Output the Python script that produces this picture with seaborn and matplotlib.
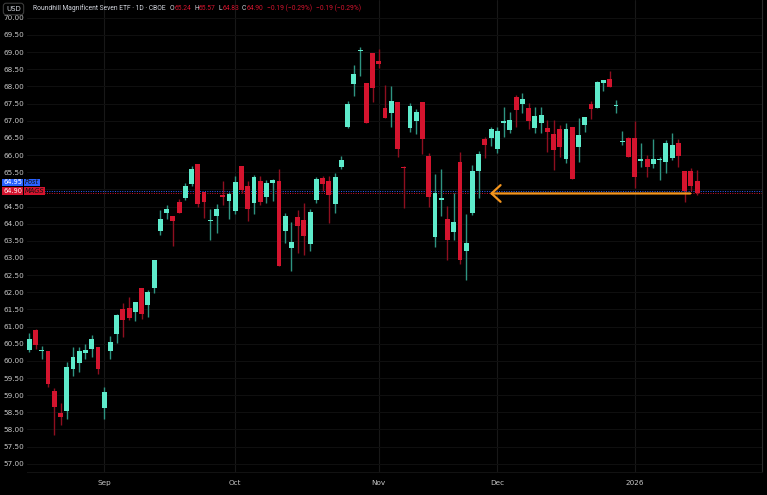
import numpy as np
import pandas as pd
import seaborn as sns
import matplotlib.pyplot as plt

# daily candles (Aug 14 2025 -> Jan 16 2026)
opens = [60.31, 60.90, 60.28, 60.28, 59.12, 58.49, 58.55, 59.76, 59.93, 60.23, 60.34, 60.39,
         58.64, 60.29, 60.77, 61.50, 61.54, 61.43, 62.11, 61.63, 62.11, 63.78, 64.32, 64.22,
         64.62, 64.76, 65.17, 65.73, 64.93, 64.08, 64.22, 64.83, 64.66,
         64.38, 65.69, 65.10, 64.61, 65.23, 64.78, 65.19, 65.25, 63.79, 63.30, 64.18, 64.11,
         63.41, 64.68, 65.34, 65.24, 64.58, 65.66, 66.83, 68.07, 69.02, 68.09, 68.97,
         68.75, 67.38, 67.24, 67.55, 65.66, 66.78, 67.00, 67.55, 65.98, 63.62, 64.70, 64.13,
         63.76, 65.80, 63.21, 64.32, 65.54, 66.48, 66.49,
         66.17, 66.94, 66.72, 67.70, 67.48, 67.38, 66.78, 66.92, 66.80, 66.61, 66.76, 65.88,
         66.83, 66.24, 66.89, 67.48, 67.37, 68.10, 68.22, 67.43, 66.38, 66.51,
         66.49, 65.83, 65.88, 65.73, 65.86, 65.79, 65.90, 66.36, 65.54, 65.54, 65.24]
highs = [60.82, 60.92, 60.44, 60.30, 59.21, 58.78, 59.96, 60.41, 60.41, 60.49, 60.74, 60.40,
         59.23, 60.72, 61.36, 61.69, 61.86, 61.72, 62.11, 62.08, 62.95, 64.40, 64.54, 64.22,
         64.72, 65.19, 65.68, 65.73, 64.93, 64.43, 64.57, 65.25, 64.93,
         65.40, 65.69, 65.25, 65.42, 65.40, 65.27, 65.29, 65.59, 64.30, 64.06, 64.40, 64.59,
         64.43, 65.37, 65.40, 65.40, 65.47, 65.97, 67.57, 68.62, 69.14, 68.09, 68.97,
         69.09, 68.05, 68.01, 67.55, 65.68, 67.53, 67.33, 67.55, 66.05, 65.45, 65.59, 64.52,
         64.88, 66.10, 64.28, 65.70, 66.13, 66.53, 66.83,
         66.82, 67.39, 67.26, 67.75, 67.80, 67.53, 67.39, 67.39, 67.02, 67.02, 66.87, 66.92,
         66.83, 67.07, 67.12, 67.58, 68.17, 68.20, 68.45, 67.60, 66.70, 66.53,
         66.99, 66.34, 66.00, 66.48, 65.93, 66.44, 66.65, 66.48, 65.54, 65.61, 65.57]
lows = [60.27, 60.34, 60.05, 59.23, 57.84, 58.13, 58.31, 59.56, 59.68, 60.04, 60.10, 59.61,
        58.31, 60.05, 60.53, 60.69, 61.19, 61.16, 61.22, 61.29, 61.97, 63.66, 64.13, 63.36,
        64.30, 64.69, 65.11, 64.48, 64.17, 63.52, 63.72, 64.54, 64.15,
        64.28, 64.90, 64.08, 64.29, 64.53, 64.59, 64.66, 62.77, 63.45, 62.62, 63.13, 63.08,
        63.21, 64.61, 64.96, 64.03, 64.32, 65.58, 66.78, 67.73, 68.29, 66.94, 67.56,
        68.53, 67.07, 66.83, 65.93, 64.45, 66.66, 66.61, 66.03, 64.48, 63.31, 64.23, 62.94,
        63.52, 62.82, 62.36, 64.25, 64.74, 65.90, 66.26,
        66.07, 66.53, 66.64, 66.83, 67.22, 66.75, 66.64, 66.63, 66.10, 65.56, 65.93, 65.76,
        65.30, 65.80, 66.66, 67.04, 67.37, 67.86, 67.97, 67.23, 66.30, 65.95,
        65.05, 65.66, 65.35, 65.61, 65.27, 65.48, 65.87, 65.64, 64.64, 64.96, 64.83]
closes = [60.64, 60.46, 60.32, 59.32, 58.66, 58.35, 59.81, 60.10, 60.29, 60.33, 60.63, 59.76,
          59.10, 60.55, 61.34, 61.19, 61.24, 61.72, 61.36, 62.01, 62.93, 64.13, 64.42, 64.08,
          64.30, 65.11, 65.58, 64.57, 64.63, 64.12, 64.43, 64.78, 64.85,
          65.20, 64.97, 64.42, 65.36, 64.63, 65.19, 65.27, 62.77, 64.23, 63.46, 63.94, 63.65,
          64.33, 65.29, 65.15, 64.83, 65.36, 65.85, 67.48, 68.37, 69.05, 66.94, 67.95,
          68.65, 67.07, 67.58, 66.17, 65.62, 67.42, 67.26, 66.48, 64.78, 64.88, 64.75, 63.52,
          64.06, 62.94, 63.44, 65.54, 66.02, 66.29, 66.76,
          66.69, 67.00, 67.01, 67.31, 67.62, 67.00, 67.14, 67.16, 66.68, 66.15, 66.23, 66.76,
          65.30, 66.58, 67.12, 67.35, 68.14, 68.18, 67.97, 67.46, 66.42, 65.95,
          65.35, 65.89, 65.64, 65.89, 65.89, 66.36, 66.28, 65.98, 64.96, 65.09, 64.90]
holidays = ["2025-09-01", "2025-11-27", "2025-12-25", "2026-01-01"]
post_price = 64.95
ticker = "MAGS"
title = "Roundhill Magnificent Seven ETF · 1D · CBOE"

UP, DOWN = "#5EEBCB", "#D4142E"
UP_WICK, DOWN_WICK = "#2E9481", "#8E0F1F"
BG = "#000000"
ORANGE = "#F5961E"
TXT = "#d1d4dc"

dates = pd.bdate_range("2025-08-14", "2026-01-16")
dates = dates[~dates.isin(pd.to_datetime(holidays))]
df = pd.DataFrame({"date": dates, "open": opens, "high": highs, "low": lows, "close": closes})
df["up"] = df["close"] >= df["open"]
x = np.arange(len(df))

sns.set_style("dark", {"axes.facecolor": BG, "figure.facecolor": BG,
                       "axes.edgecolor": "#2a2a2a", "text.color": TXT,
                       "xtick.color": "#c8c8c8", "ytick.color": "#c8c8c8"})
plt.rcParams["font.family"] = ["DejaVu Sans"]
head_font = ["Roboto", "DejaVu Sans"]

fig = plt.figure(figsize=(7.67, 4.95), dpi=100)
ax = fig.add_axes([27 / 767, 23 / 495, 735 / 767, 472 / 495])

# wicks + bodies
ax.vlines(x, df["low"], df["high"],
          colors=np.where(df["up"], UP_WICK, DOWN_WICK), lw=1, zorder=3)
body = np.maximum((df["close"] - df["open"]).abs(), 0.03)
ax.bar(x, body, bottom=df[["open", "close"]].min(axis=1), width=0.78,
       color=np.where(df["up"], UP, DOWN), linewidth=0, zorder=4)

# last / post price lines
last = df["close"].iloc[-1]
ax.axhline(post_price, color="#2962FF", lw=0.7, ls=(0, (1, 1.5)), zorder=2)
ax.axhline(last, color=DOWN, lw=0.7, ls=(0, (1, 1.5)), zorder=2)

# orange arrow pointing back to the breakout area
ax.annotate("", xy=(73.8, 64.88), xytext=(105.9, 64.88),
            arrowprops=dict(arrowstyle="->,head_length=0.65,head_width=0.6",
                            color=ORANGE, lw=1.6, shrinkA=0, shrinkB=0,
                            mutation_scale=10), zorder=5)

# axes
ax.set_xlim(-0.37, 117.4)
ax.set_ylim(56.76, 70.52)
yt = np.arange(57, 70.01, 0.5)
ax.set_yticks(yt)
# 65.00 sits under the price tags, so it is left blank
ax.set_yticklabels(["" if abs(v - 65) < 1e-6 else f"{v:.2f}" for v in yt])
firsts = df.groupby(df["date"].dt.to_period("M")).head(1).index[1:]
ax.set_xticks(firsts)
ax.set_xticklabels([df["date"][i].strftime("%Y") if df["date"][i].month == 1
                    else df["date"][i].strftime("%b") for i in firsts])
ax.tick_params(axis="y", labelsize=5.2, length=0, pad=2)
ax.tick_params(axis="x", labelsize=5.2, length=0, pad=6)
ax.yaxis.grid(True, color="#0f0f0f", lw=0.8)
ax.xaxis.grid(True, color="#181818", lw=0.8)
ax.set_axisbelow(True)
for s in ["left", "top"]:
    ax.spines[s].set_visible(False)
ax.spines["right"].set_color("#2b2b2b")
ax.spines["bottom"].set_color("#121212")

# price labels on the scale
def tag(price, val_txt, name, color):
    t = ax.annotate(val_txt, xy=(3 / 767, price), xycoords=("figure fraction", "data"),
                    ha="left", va="center", fontsize=4.8, color="white", zorder=10,
                    bbox=dict(boxstyle="square,pad=0.12", fc=color, ec="none"))
    ax.annotate(name, xy=(1, 0.5), xycoords=t, xytext=(2.2, 0), textcoords="offset points",
                ha="left", va="center", fontsize=4.8, color="#111111", style="italic", zorder=10,
                bbox=dict(boxstyle="square,pad=0.12", fc=color, ec="none"))

tag(post_price + 0.25, f"{post_price:.2f}", "Post", "#2962FF")
tag(last + 0.05, f"{last:.2f}", ticker, DOWN)

# header
fig.text(13.5 / 767, 1 - 9 / 495, "USD", ha="center", va="center", fontsize=5,
         color=TXT, bbox=dict(boxstyle="round,pad=0.4", fc=BG, ec="#3a3a3a", lw=0.8))
chg = last - df["close"].iloc[-2]
pct = chg / df["close"].iloc[-2] * 100
parts = [("O", TXT), (f"{df['open'].iloc[-1]:.2f}", DOWN),
         ("H", TXT), (f"{df['high'].iloc[-1]:.2f}", DOWN),
         ("L", TXT), (f"{df['low'].iloc[-1]:.2f}", DOWN),
         ("C", TXT), (f"{last:.2f}", DOWN),
         (f"{chg:+.2f} ({pct:+.2f}%)".replace("-", "−"), DOWN),
         (f"{chg:+.2f} ({pct:+.2f}%)".replace("-", "−"), DOWN)]
prev = fig.text(33 / 767, 1 - 8.5 / 495, title, ha="left", va="center",
                fontsize=4.9, color=TXT, family=head_font)
gaps = [3, 0.2, 2, 0.2, 2, 0.2, 2, 0.2, 2.5, 3]
for (txt, col), g in zip(parts, gaps):
    prev = ax.annotate(txt, xy=(1, 0.5), xycoords=prev, xytext=(g, 0),
                       textcoords="offset points", ha="left", va="center",
                       fontsize=4.9, color=col, family=head_font, annotation_clip=False)

fig.savefig("out.png", dpi=100, facecolor=BG)
